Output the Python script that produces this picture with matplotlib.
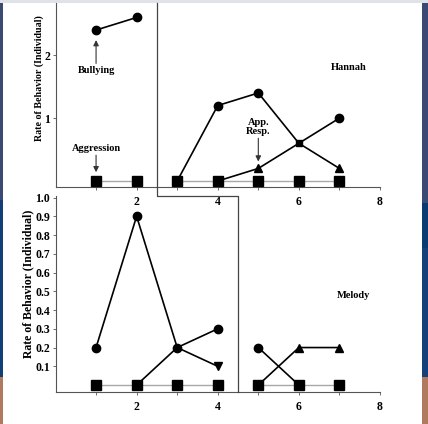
import matplotlib
matplotlib.use("Agg")
import matplotlib.pyplot as plt
from matplotlib.lines import Line2D
from matplotlib.patches import Rectangle

# ---------------- data ----------------
sessions_p1 = [1, 2]
sessions_p2 = [3, 4, 5, 6, 7]

# Hannah (top panel)
hannah_bully_p1 = [2.4, 2.6]
hannah_aggr_p1 = [0, 0]
hannah_aggr_p2 = [0, 0, 0, 0, 0]
hannah_bully_p2 = [0, 1.2, 1.4, 0.6, 0.2]        # ends at triangle
hannah_app_x = [4, 5, 6, 7]
hannah_app_p2 = [0, 0.2, 0.6, 1.0]                # ends at circle

# Melody (bottom panel)
mel_x1 = [1, 2, 3, 4]
mel_circ_p1 = [0.2, 0.9, 0.2, 0.3]
mel_aggr_p1 = [0, 0, 0, 0]
mel_tri_x1 = [2, 3, 4]
mel_tri_p1 = [0, 0.2, 0.1]
mel_x2 = [5, 6, 7]
mel_aggr_p2 = [0, 0, 0]
mel_circ_x2 = [5, 6]
mel_circ_p2 = [0.2, 0]
mel_tri_p2 = [0, 0.2, 0.2]

x_ticks = [1, 2, 3, 4, 5, 6, 7, 8]
x_ticklabels = ["", "2", "", "4", "", "6", "", "8"]
top_yticks = [1, 2]
bot_yticks = [0.1, 0.2, 0.3, 0.4, 0.5, 0.6, 0.7, 0.8, 0.9, 1.0]

# ---------------- figure ----------------
W, H = 428, 424
fig = plt.figure(figsize=(W / 100, H / 100), dpi=100)
fig.patch.set_facecolor("white")

SERIF = ["Liberation Serif", "DejaVu Serif"]
plt.rcParams["font.family"] = SERIF
plt.rcParams["font.weight"] = "bold"

def px_rect(x0, y0, x1, y1):
    return [x0 / W, 1 - y1 / H, (x1 - x0) / W, (y1 - y0) / H]

# slide background strips
for (x0, y0, x1, y1, c) in [
    (0, 0, W, 3, "#dfe2e6"),
    (422, 3, W, 203, "#3a4a72"),
    (422, 203, W, 248, "#0b3a73"),
    (422, 248, W, 377, "#164079"),
    (422, 377, W, H, "#b07a60"),
    (0, 3, 2.5, 200, "#3a4a72"),
    (0, 200, 2.5, 377, "#123f78"),
    (0, 377, 2.5, H, "#b07a60"),
]:
    fig.add_artist(Rectangle((x0 / W, 1 - y1 / H), (x1 - x0) / W, (y1 - y0) / H,
                             transform=fig.transFigure, color=c, lw=0, zorder=0))

ax_top = fig.add_axes(px_rect(55.5, 3, 380, 187))
ax_bot = fig.add_axes(px_rect(55.5, 196, 380, 392))

LINE = dict(color="black", lw=1.2)
GRAY = dict(color="#a8a8a8", lw=1.0)
MS_C = 6
MS_S = 6.5
MS_T = 6

def style(ax, ylim, yticks, ylabels):
    ax.set_xlim(0, 8)
    ax.set_ylim(*ylim)
    for s in ["top", "right"]:
        ax.spines[s].set_visible(False)
    for s in ["left", "bottom"]:
        ax.spines[s].set_color("#555555")
        ax.spines[s].set_linewidth(0.8)
    ax.set_xticks(x_ticks)
    ax.set_xticklabels(x_ticklabels)
    ax.set_yticks(yticks)
    ax.set_yticklabels(ylabels)
    ax.tick_params(axis="both", length=2.5, width=0.6, color="#555555",
                   labelsize=8.5, pad=1.5)
    ax.tick_params(axis="x", pad=4)
    for t in ax.get_xticklabels() + ax.get_yticklabels():
        t.set_fontweight("bold")
        t.set_family(SERIF)
    ax.patch.set_alpha(0)

# ---- top panel ----
style(ax_top, (-0.095, 2.83), top_yticks, [str(v) for v in top_yticks])
ax_top.plot(sessions_p1, hannah_aggr_p1, **GRAY, zorder=2)
ax_top.plot(sessions_p1, hannah_aggr_p1, ls="none", marker="s", ms=MS_S, color="black", zorder=4)
ax_top.plot(sessions_p1, hannah_bully_p1, **LINE, marker="o", ms=MS_C, zorder=3)
ax_top.plot(sessions_p2, hannah_aggr_p2, **GRAY, zorder=2)
ax_top.plot(sessions_p2, hannah_bully_p2, **LINE, zorder=3)
ax_top.plot(hannah_app_x, hannah_app_p2, **LINE, zorder=3)
ax_top.plot(sessions_p2[1:3], hannah_bully_p2[1:3], ls="none", marker="o", ms=MS_C, color="black", zorder=4)
ax_top.plot(sessions_p2[-1:], hannah_bully_p2[-1:], ls="none", marker="^", ms=MS_T, color="black", zorder=4)
ax_top.plot(hannah_app_x[1:2], hannah_app_p2[1:2], ls="none", marker="^", ms=MS_T, color="black", zorder=4)
ax_top.plot(hannah_app_x[-1:], hannah_app_p2[-1:], ls="none", marker="o", ms=MS_C, color="black", zorder=4)
ax_top.plot(hannah_app_x[2:3], hannah_app_p2[2:3], ls="none", marker="s", ms=5, color="black", zorder=4)
ax_top.plot(sessions_p2, hannah_aggr_p2, ls="none", marker="s", ms=MS_S, color="black", zorder=5)

arrow = dict(arrowstyle="-|>", color="#333333", lw=0.8, mutation_scale=8,
             shrinkA=0, shrinkB=0)
TXT = dict(ha="center", va="center", fontsize=7.5, fontweight="bold", family=SERIF)
ax_top.text(1, 1.75, "Bullying", **TXT)
ax_top.annotate("", xy=(1, 2.24), xytext=(1, 1.87), arrowprops=arrow)
ax_top.text(1, 0.52, "Aggression", **TXT)
ax_top.annotate("", xy=(1, 0.14), xytext=(1, 0.41), arrowprops=arrow)
ax_top.text(5, 0.86, "App.\nResp.", linespacing=0.95, **TXT)
ax_top.annotate("", xy=(5, 0.31), xytext=(5, 0.68), arrowprops=arrow)
ax_top.text(7.24, 1.81, "Hannah", **TXT)

# ---- bottom panel ----
style(ax_bot, (-0.037, 1.008), bot_yticks, ["%.1f" % v for v in bot_yticks])
ax_bot.plot(mel_x1, mel_aggr_p1, **GRAY, zorder=2)
ax_bot.plot(mel_x1, mel_circ_p1, **LINE, marker="o", ms=MS_C, zorder=3)
ax_bot.plot(mel_tri_x1, mel_tri_p1, **LINE, zorder=3)
ax_bot.plot(mel_tri_x1[-1:], mel_tri_p1[-1:], ls="none", marker="v", ms=MS_T, color="black", zorder=4)
ax_bot.plot(mel_x1, mel_aggr_p1, ls="none", marker="s", ms=MS_S, color="black", zorder=5)

ax_bot.plot(mel_x2, mel_aggr_p2, **GRAY, zorder=2)
ax_bot.plot(mel_circ_x2, mel_circ_p2, **LINE, zorder=3)
ax_bot.plot(mel_circ_x2[:1], mel_circ_p2[:1], ls="none", marker="o", ms=MS_C, color="black", zorder=4)
ax_bot.plot(mel_x2, mel_tri_p2, **LINE, zorder=3)
ax_bot.plot(mel_x2[1:], mel_tri_p2[1:], ls="none", marker="^", ms=MS_T, color="black", zorder=4)
ax_bot.plot(mel_x2, mel_aggr_p2, ls="none", marker="s", ms=MS_S, color="black", zorder=5)
ax_bot.text(7.36, 0.48, "Melody", **TXT)

# y labels
fig.text(39 / W, 1 - 78 / H, "Rate of Behavior (Individual)", rotation=90,
         ha="center", va="center", fontsize=7.2, fontweight="bold", family=SERIF)
fig.text(28 / W, 1 - 284 / H, "Rate of Behavior (Individual)", rotation=90,
         ha="center", va="center", fontsize=8.5, fontweight="bold", family=SERIF)

# phase-change line
fig.canvas.draw()
inv = fig.transFigure.inverted()
def to_fig(ax, x, y_axes):
    xd = ax.transData.transform((x, 0))[0]
    yd = ax.transAxes.transform((0, y_axes))[1]
    return inv.transform((xd, yd))
p1 = to_fig(ax_top, 2.5, 1.0)
p2 = to_fig(ax_bot, 2.5, 1.0)
p3 = to_fig(ax_bot, 4.5, 1.0)
p4 = to_fig(ax_bot, 4.5, 0.0)
fig.add_artist(Line2D([p1[0], p2[0], p3[0], p4[0]], [p1[1], p2[1], p3[1], p4[1]],
                      transform=fig.transFigure, color="#444444", lw=0.9, zorder=6))

fig.savefig("out.png", dpi=100, facecolor=fig.get_facecolor())
